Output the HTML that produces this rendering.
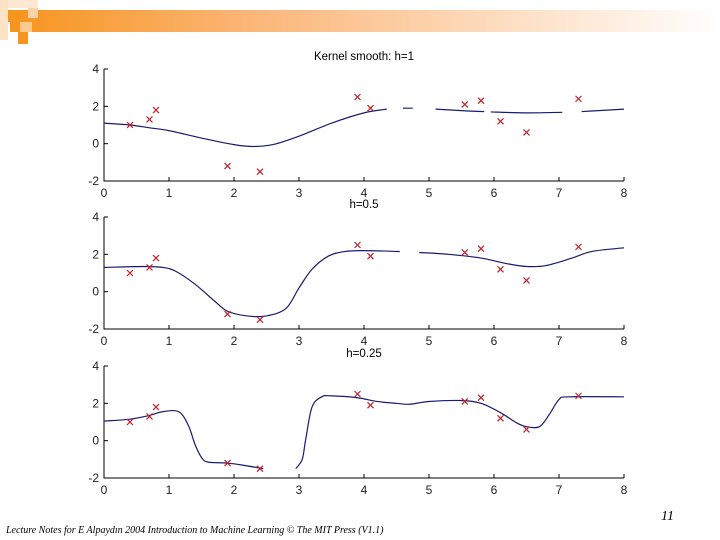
<!DOCTYPE html>
<html><head><meta charset="utf-8"><style>
body{margin:0;width:720px;height:540px;background:#fff;overflow:hidden;position:relative;font-family:"Liberation Sans",sans-serif}
svg{position:absolute;left:0;top:0}
</style></head><body>
<svg width="720" height="540" id="s">
<defs><linearGradient id="g" x1="0" x2="1"><stop offset="0" stop-color="#f7941d"/><stop offset="0.35" stop-color="#fbb77a"/><stop offset="1" stop-color="#fff"/></linearGradient></defs>
<g>
<rect x="10" y="10" width="710" height="22" fill="url(#g)"/>
<rect x="0" y="0" width="8" height="40" fill="#fde3c4"/>
<rect x="8" y="0" width="30" height="8" fill="#fde9d2"/>
<rect x="8" y="10" width="12" height="12" fill="#f7941d"/>
<rect x="20" y="22" width="12" height="10" fill="#fcc98e"/>
<rect x="18" y="32" width="10" height="12" fill="#f7941d"/>
<rect x="28" y="8" width="10" height="10" fill="#fbd3a6"/>
</g>
<text x="661" y="520" font-family="Liberation Serif,serif" font-size="14" font-style="italic">11</text>
<text x="6" y="533" font-family="Liberation Serif,serif" font-size="10" font-style="italic">Lecture Notes for E Alpaydın 2004 Introduction to Machine Learning © The MIT Press (V1.1)</text>
</svg>
<script>
const ptX=[0.4,0.7,0.8,1.9,2.4,3.9,4.1,5.55,5.8,6.1,6.5,7.3];
const ptY=[1.0,1.3,1.8,-1.2,-1.5,2.5,1.9,2.1,2.3,1.2,0.6,2.4];
const xTicks=[0,1,2,3,4,5,6,7,8];
const yTicks=[-2,0,2,4];
const titles=["Kernel smooth: h=1","h=0.5","h=0.25"];
const c1X=[0,0.4,0.7,1,1.5,2,2.3,2.6,3,3.5,4,4.35,null,4.6,4.75,null,5.1,5.6,5.85,null,5.95,6.5,7.05,null,7.35,7.5,8];
const c1Y=[1.1,1.0,0.85,0.7,0.3,-0.05,-0.15,-0.05,0.4,1.1,1.65,1.85,null,1.9,1.9,null,1.85,1.75,1.72,null,1.7,1.65,1.68,null,1.72,1.75,1.85];
const c2X=[0,0.6,0.9,1.1,1.4,1.7,1.9,2.2,2.5,2.8,3.0,3.2,3.45,3.7,4,4.55,null,4.85,5.3,5.8,6.2,6.5,6.8,7.2,7.5,8];
const c2Y=[1.3,1.35,1.3,1.1,0.4,-0.5,-1.05,-1.3,-1.3,-0.9,0.2,1.2,1.9,2.15,2.2,2.15,null,2.1,2.0,1.8,1.5,1.35,1.4,1.8,2.15,2.35];
const c3X=[0,0.4,0.7,0.9,1.15,1.3,1.4,1.5,1.6,1.9,2.2,2.45,null,2.95,3.05,3.1,3.2,3.35,3.5,3.9,4.2,4.5,4.7,5.0,5.5,5.8,6.1,6.35,6.5,6.7,6.85,7.0,7.15,8];
const c3Y=[1.05,1.15,1.35,1.55,1.55,0.8,-0.2,-0.9,-1.15,-1.2,-1.35,-1.5,null,-1.5,-1.0,0,1.8,2.35,2.4,2.3,2.1,2.0,1.95,2.1,2.15,2.0,1.5,0.95,0.75,0.75,1.4,2.2,2.35,2.35];
const curvesX=[c1X,c2X,c3X], curvesY=[c1Y,c2Y,c3Y];
const panelTop=[69,217,366];
const NS="http://www.w3.org/2000/svg", svg=document.getElementById('s');
function mk(t,a,p){const e=document.createElementNS(NS,t);for(const k in a)e.setAttribute(k,a[k]);(p||svg).appendChild(e);return e;}
const X0=104,X1=624;
const sx=v=>X0+(v-0)/(8-0)*(X1-X0);
panelTop.forEach((top,pi)=>{
  const bot=top+112;
  const sy=v=>bot-(v+2)/6*(bot-top);
  const g=mk('g',{});
  
  
  const t=mk('text',{x:364,y:top-9,'font-size':11.5,'text-anchor':'middle'},g);t.textContent=titles[pi];
  
  
  const ax=mk('path',{d:`M${X0} ${top}V${bot}H${X1}`,stroke:'#000','stroke-width':1,fill:'none'},g);
  
  
  xTicks.forEach(v=>{mk('line',{x1:sx(v),x2:sx(v),y1:bot,y2:bot-4,stroke:'#000'},g);
    const l=mk('text',{x:sx(v),y:bot+16,'font-size':12,'text-anchor':'middle',fill:'#222'},g);l.textContent=v;
    
    });
  yTicks.forEach(v=>{mk('line',{x1:X0,x2:X0+4,y1:sy(v),y2:sy(v),stroke:'#000'},g);
    const l=mk('text',{x:X0-5,y:sy(v)+4,'font-size':12,'text-anchor':'end',fill:'#222'},g);l.textContent=v;
    
    });
  const cx=curvesX[pi],cy=curvesY[pi];let d='',segs=[[]];
  cx.forEach((x,i)=>{if(x===null)segs.push([]);else segs[segs.length-1].push([sx(x),sy(cy[i])]);});
  segs.forEach(s=>{if(!s.length)return;d+='M'+s[0][0]+' '+s[0][1];
    for(let i=0;i<s.length-1;i++){const p0=s[i-1]||s[i],p1=s[i],p2=s[i+1],p3=s[i+2]||p2;
      d+=`C${p1[0]+(p2[0]-p0[0])/6} ${p1[1]+(p2[1]-p0[1])/6} ${p2[0]-(p3[0]-p1[0])/6} ${p2[1]-(p3[1]-p1[1])/6} ${p2[0]} ${p2[1]}`;}});
  const c=mk('path',{d,stroke:'#1a1a6e','stroke-width':1.2,fill:'none'},g);
  
  
  ptX.forEach((x,i)=>{const px=sx(x),py=sy(ptY[i]);
    const m=mk('path',{d:`M${px-3} ${py-3}L${px+3} ${py+3}M${px-3} ${py+3}L${px+3} ${py-3}`,stroke:'#c0202a','stroke-width':1.2},g);
    
    });
});
</script>
</body></html>
